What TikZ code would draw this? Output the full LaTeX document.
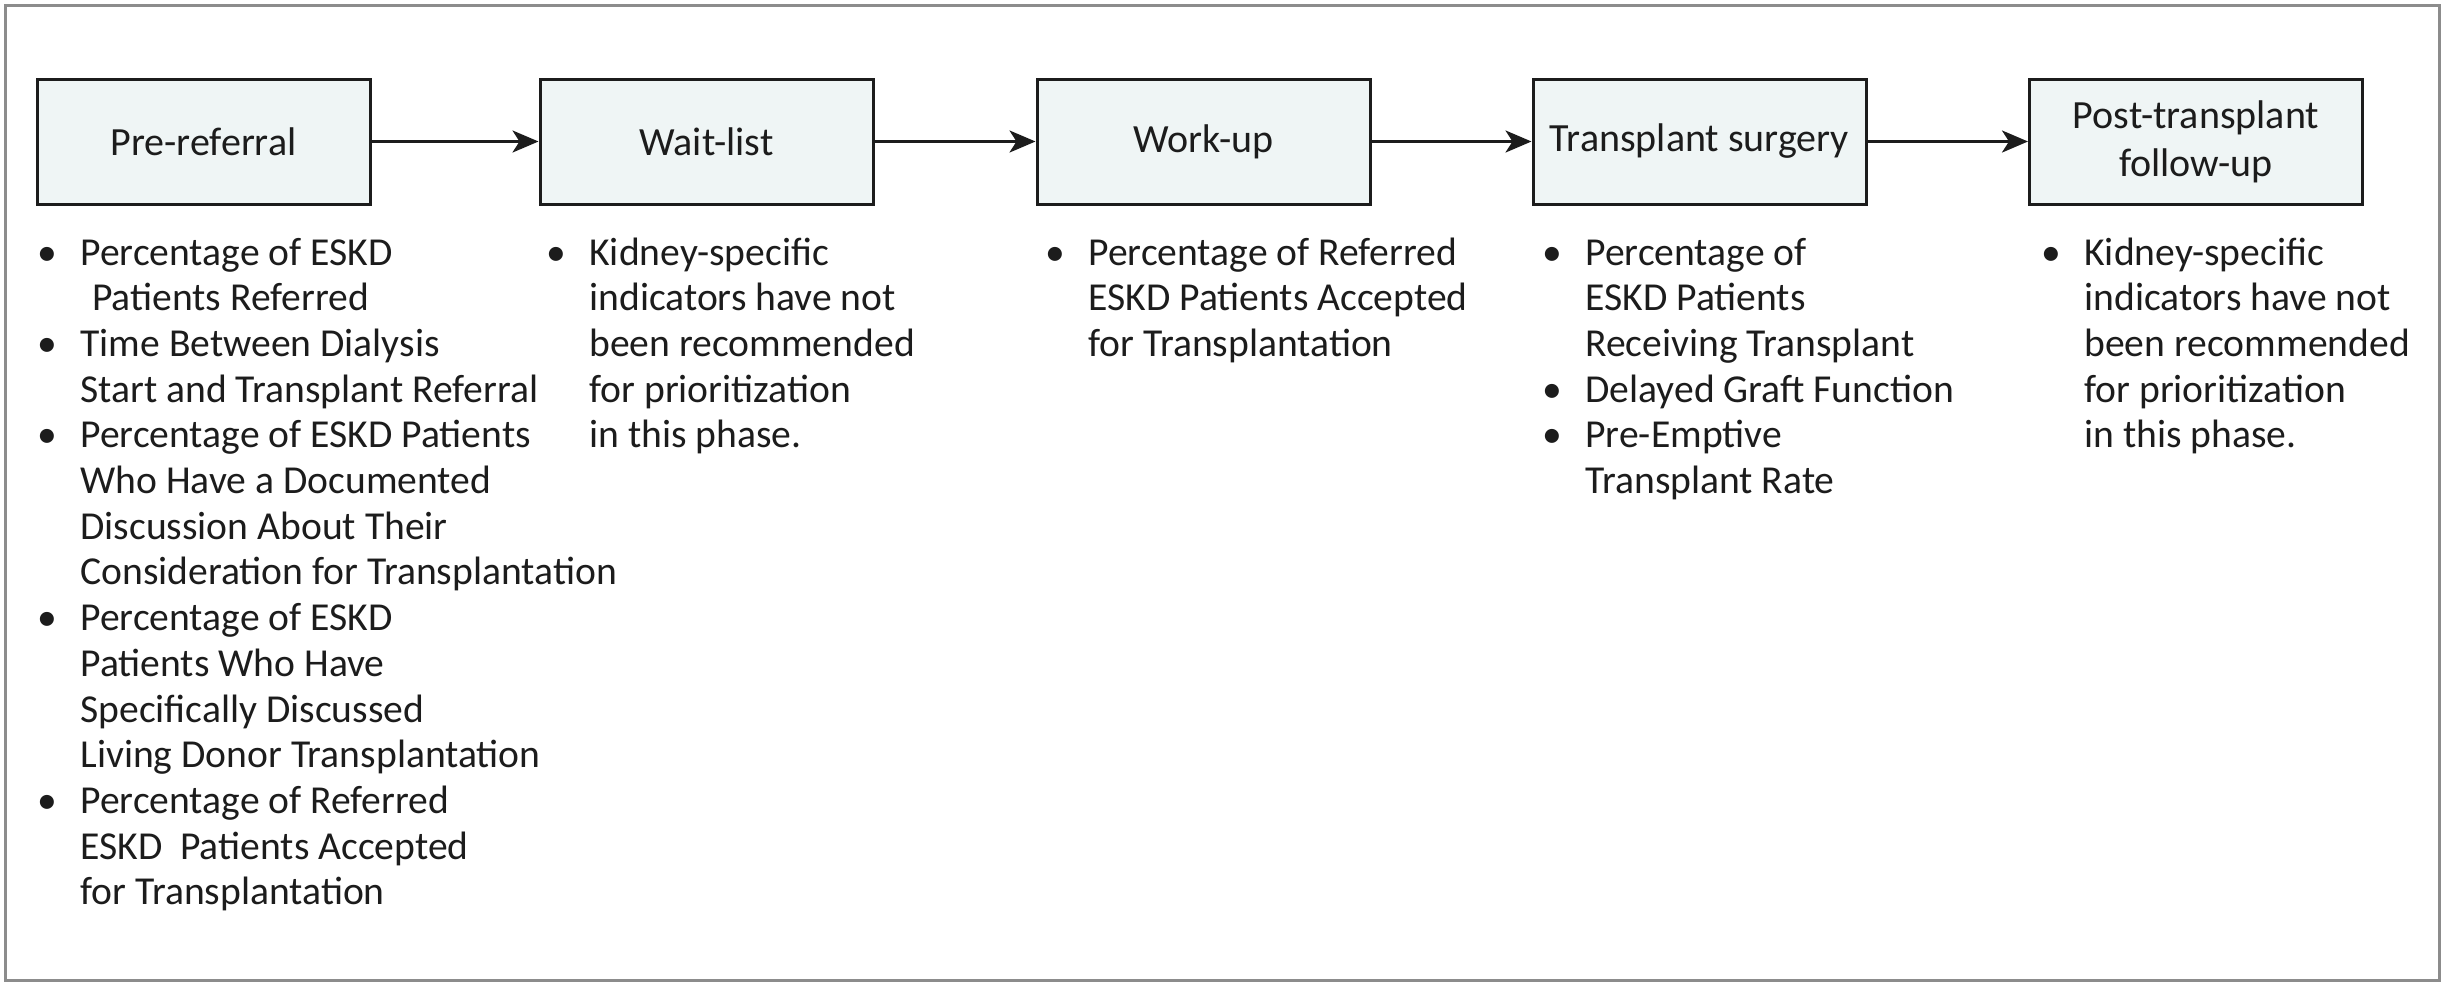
\documentclass[tikz,border=0pt]{standalone}
\usepackage{fontspec}
\setmainfont{Carlito}
\usetikzlibrary{arrows.meta}
\definecolor{boxfill}{RGB}{239,245,245}
\definecolor{frameg}{RGB}{140,140,140}
\definecolor{ink}{RGB}{28,28,28}
\newlength\bind
\setlength\bind{20pt}
\newcommand\itm[1]{\par\hangindent=\bind\hangafter=1\noindent\makebox[\bind][l]{\hspace*{-1.5pt}\textbullet}#1}
\newcommand\blist[1]{\parbox[t]{320pt}{\fontsize{19.8}{22.85}\selectfont\rightskip=0pt plus 1fil\parskip=0pt\parindent=0pt #1}}
\tikzset{
  phase/.style={draw=ink, line width=1.5pt, fill=boxfill, minimum width=166.5pt, minimum height=62.5pt,
    inner sep=0pt, align=center, font=\fontsize{20}{24}\selectfont, text=ink},
  flow/.style={draw=ink, line width=1.5pt, -{Stealth[length=13pt,width=11pt,inset=3.5pt]}},
  listnode/.style={anchor=base west, inner sep=0pt, text=ink}
}
\begin{document}
\begin{tikzpicture}[x=0.5pt,y=-0.5pt]
\useasboundingbox (0,0) rectangle (2451,985);
\draw[frameg, line width=1.5pt] (5,5) rectangle (2439,980);

\node[phase] (p1) at (203.5,141.5) {Pre-referral};
\node[phase] (p2) at (706.5,141.5) {Wait-list};
\node[phase] (p3) at (1203.5,141.5) {Work-up};
\node[phase] (p4) at (1699.5,141.5) {Transplant surgery};
\node[phase] (p5) at (2196,141.5) {Post-transplant\\follow-up};

\draw[flow] (p1) -- (p2);
\draw[flow] (p2) -- (p3);
\draw[flow] (p3) -- (p4);
\draw[flow] (p4) -- (p5);

\node[listnode] (l1) at (40,265) {\blist{%
\itm{Percentage of ESKD\\\hspace*{0.3em}Patients Referred}
\itm{Time Between Dialysis\\Start and Transplant Referral}
\itm{Percentage of ESKD Patients\\Who Have a Documented\\Discussion About Their\\Consideration for Transplantation}
\itm{Percentage of ESKD\\Patients Who Have\\Specifically Discussed\\Living Donor Transplantation}
\itm{Percentage of Referred\\ESKD\ \ Patients Accepted\\for Transplantation}}};

\node[listnode] (l2) at (549,265) {\blist{%
\itm{Kidney-specific\\indicators have not\\been recommended\\for prioritization\\in this phase.}}};

\node[listnode] (l3) at (1048,265) {\blist{%
\itm{Percentage of Referred\\ESKD Patients Accepted\\for Transplantation}}};

\node[listnode] (l4) at (1545,265) {\blist{%
\itm{Percentage of\\ESKD Patients\\Receiving Transplant}
\itm{Delayed Graft Function}
\itm{Pre-Emptive\\Transplant Rate}}};

\node[listnode] (l5) at (2044,265) {\blist{%
\itm{Kidney-specific\\indicators have not\\been recommended\\for prioritization\\in this phase.}}};
\end{tikzpicture}
\end{document}
